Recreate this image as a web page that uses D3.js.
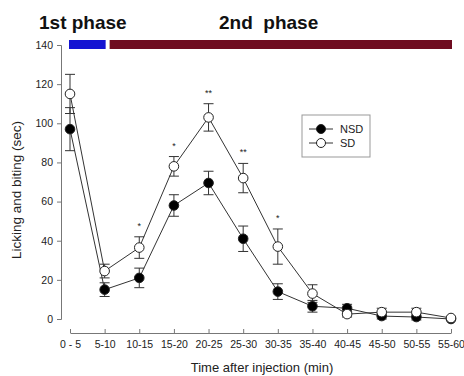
<!DOCTYPE html>
<html>
<head>
<meta charset="utf-8">
<script src="https://cdn.jsdelivr.net/npm/d3@7"></script>
<style>
  body { margin: 0; background: #fff; }
  svg { display: block; font-family: "Liberation Sans", Arial, sans-serif; }
</style>
</head>
<body>
<svg id="chart" width="464" height="376"></svg>
<script>
const width = 464,
  height = 376

const categories = ['0 - 5', '5-10', '10-15', '15-20', '20-25', '25-30', '30-35', '35-40', '40-45', '45-50', '50-55', '55-60']
const nsdMean = [97, 15, 21, 58, 69.5, 41, 14, 6.5, 5.5, 1.5, 1, 0]
const nsdErr = [11, 3.5, 5, 5.5, 6, 6.5, 4, 3, 2, 1.5, 1.5, 0]
const sdMean = [115, 24.5, 36.5, 78, 103, 72, 37, 13, 2.5, 3.5, 3.5, 0.5]
const sdErr = [10, 3.5, 5.5, 5, 7, 7.5, 9, 4.5, 1.5, 2, 2, 0]
const stars = ['', '', '*', '*', '**', '**', '*', '', '', '', '', '']
const yTicks = [0, 20, 40, 60, 80, 100, 120, 140]
const phases = [
  { label: '1st phase', from: 0, to: 1, color: '#1414d2' },
  { label: '2nd  phase', from: 1, to: 11, color: '#6f0c20' }
]

let svg = d3.select('#chart')

let x = d3.scalePoint()
  .domain(categories)
  .range([70, 451])

let y = d3.scaleLinear()
  .domain([0, 140])
  .range([319, 45])

// y axis
let yAxis = svg.append('g')
  .attr('transform', 'translate(61,0)')
  .call(d3.axisLeft(y).tickValues(yTicks).tickSize(4).tickPadding(4))
yAxis.select('.domain').attr('stroke', '#777')
yAxis.selectAll('.tick line').attr('stroke', '#777')
yAxis.selectAll('text').attr('font-size', 10.5).attr('fill', '#222')

// x axis, offset below the plot
let xAxis = svg.append('g')
  .attr('transform', 'translate(0,333)')
  .call(d3.axisBottom(x).tickSize(-4).tickPadding(8).tickSizeOuter(0))
xAxis.select('.domain').attr('stroke', '#777')
xAxis.selectAll('.tick line').attr('stroke', '#777')
xAxis.selectAll('text').attr('font-size', 10.5).attr('fill', '#222')

svg.append('text')
  .attr('x', 262)
  .attr('y', 372)
  .attr('text-anchor', 'middle')
  .attr('font-size', 13)
  .attr('fill', '#222')
  .text('Time after injection (min)')

svg.append('text')
  .attr('transform', 'translate(21,190) rotate(-90)')
  .attr('text-anchor', 'middle')
  .attr('font-size', 13.5)
  .attr('fill', '#222')
  .text('Licking and biting (sec)')

// phase bars and headings
svg.selectAll('rect.phase')
  .data(phases)
  .enter()
    .append('rect')
    .attr('class', 'phase')
    .attr('x', (d, i) => x(categories[d.from]) - 1 + (i ? 6 : 0))
    .attr('width', (d, i) => x(categories[d.to]) - x(categories[d.from]) + 2 - (i ? 6 : 0))
    .attr('y', 40)
    .attr('height', 9)
    .attr('fill', d => d.color)

svg.selectAll('text.phase')
  .data(phases)
  .enter()
    .append('text')
    .attr('class', 'phase')
    .attr('x', (d, i) => i ? 219 : 39)
    .attr('y', 29)
    .attr('font-size', 19)
    .attr('font-weight', 'bold')
    .attr('fill', '#111')
    .style('white-space', 'pre')
    .text(d => d.label)

let series = [
  { name: 'NSD', mean: nsdMean, err: nsdErr, fill: '#000' },
  { name: 'SD', mean: sdMean, err: sdErr, fill: '#fff' }
]

let line = d3.line()
  .x((d, i) => x(categories[i]))
  .y(d => y(d))

series.forEach(s => {
  svg.append('path')
    .attr('d', line(s.mean))
    .attr('fill', 'none')
    .attr('stroke', '#333')
    .attr('stroke-width', 1)

  let eb = svg.append('g')
  s.mean.forEach((m, i) => {
    if (s.err[i] === 0) return
    let cx = x(categories[i])
    eb.append('line')
      .attr('x1', cx).attr('x2', cx)
      .attr('y1', y(m + s.err[i])).attr('y2', y(m - s.err[i]))
      .attr('stroke', '#333')
    ;[m + s.err[i], m - s.err[i]].forEach(v => {
      eb.append('line')
        .attr('x1', cx - 5).attr('x2', cx + 5)
        .attr('y1', y(v)).attr('y2', y(v))
        .attr('stroke', '#333')
    })
  })
})

series.forEach(s => {
  svg.selectAll(null)
    .data(s.mean)
    .enter()
      .append('circle')
      .attr('cx', (d, i) => x(categories[i]))
      .attr('cy', d => y(d))
      .attr('r', 4.8)
      .attr('fill', s.fill)
      .attr('stroke', '#222')
      .attr('stroke-width', 1)
})

// significance stars above the SD error bars
svg.selectAll('text.star')
  .data(stars)
  .enter()
    .append('text')
    .attr('class', 'star')
    .attr('x', (d, i) => x(categories[i]))
    .attr('y', (d, i) => y(sdMean[i] + sdErr[i]) - 8)
    .attr('text-anchor', 'middle')
    .attr('font-size', 9)
    .attr('fill', '#222')
    .text(d => d)

// legend
let legend = svg.append('g').attr('transform', 'translate(302,115)')
legend.append('rect')
  .attr('width', 68)
  .attr('height', 42)
  .attr('fill', '#fff')
  .attr('stroke', '#999')

series.forEach((s, i) => {
  let ly = 14 + i * 14
  legend.append('line')
    .attr('x1', 7).attr('x2', 31)
    .attr('y1', ly).attr('y2', ly)
    .attr('stroke', '#333')
  legend.append('circle')
    .attr('cx', 19).attr('cy', ly)
    .attr('r', 4.5)
    .attr('fill', s.fill)
    .attr('stroke', '#222')
  legend.append('text')
    .attr('x', 38).attr('y', ly + 4)
    .attr('font-size', 11)
    .attr('fill', '#222')
    .text(s.name)
})
</script>
</body>
</html>
